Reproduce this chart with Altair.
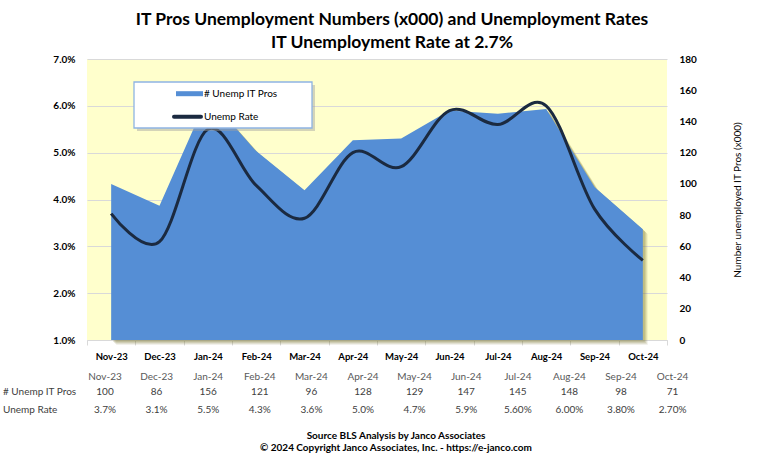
import altair as alt
import pandas as pd

# ---------------- data ----------------
months = ["Nov-23", "Dec-23", "Jan-24", "Feb-24", "Mar-24", "Apr-24",
          "May-24", "Jun-24", "Jul-24", "Aug-24", "Sep-24", "Oct-24"]
unemp_it_pros = [100, 86, 156, 121, 96, 128, 129, 147, 145, 148, 98, 71]
unemp_rate_pct = [3.7, 3.1, 5.5, 4.3, 3.6, 5.0, 4.7, 5.9, 5.6, 6.0, 3.8, 2.7]
rate_text = ["3.7%", "3.1%", "5.5%", "4.3%", "3.6%", "5.0%",
             "4.7%", "5.9%", "5.60%", "6.00%", "3.80%", "2.70%"]
series_names = ["# Unemp IT Pros", "Unemp Rate"]
row_labels = ["# Unemp IT Pros", "Unemp Rate"]
rate_ticks = [0.01, 0.02, 0.03, 0.04, 0.05, 0.06, 0.07]
count_ticks = [0, 20, 40, 60, 80, 100, 120, 140, 160, 180]
title_lines = ["IT Pros Unemployment Numbers (x000) and Unemployment Rates",
               "IT Unemployment Rate at 2.7%"]
source_lines = ["Source BLS Analysis by Janco Associates",
                "\u00a9 2024 Copyright Janco Associates, Inc. - https://e-janco.com"]
right_axis_title = "Number unemployed IT Pros (x000)"

df = pd.DataFrame({
    "month": months,
    "count": unemp_it_pros,
    "rate": [v / 100 for v in unemp_rate_pct],
    "count_text": [str(v) for v in unemp_it_pros],
    "rate_text": rate_text,
})

FONT = "Lato"
BLUE = "#558ed5"
NAVY = "#1b2a40"
W, H = 580, 281

base = alt.Chart(df)
one = alt.Chart(pd.DataFrame({"k": [0]}))

band = alt.Scale(type="band", paddingInner=0, paddingOuter=0)

x_main = alt.X(
    "month:N", sort=months, bandPosition=0.5, scale=band, title=None,
    axis=alt.Axis(tickBand="extent", labelAngle=0, labelFont=FONT,
                  labelFontSize=9.5, labelFontWeight="bold", labelColor="#000000",
                  labelPadding=6, tickSize=5, tickColor="#d9d9d9",
                  domainColor="#d9d9d9", grid=False))
y_count = alt.Y(
    "count:Q", scale=alt.Scale(domain=[0, 180]), title=right_axis_title,
    axis=alt.Axis(orient="right", values=count_ticks, grid=False, ticks=False,
                  domain=False, labelFont=FONT, labelFontSize=10,
                  labelFontWeight="bold", labelColor="#000000", labelPadding=12,
                  titleFont=FONT, titleFontSize=10, titleFontWeight="normal",
                  titleColor="#000000", titleAngle=270, titleX=70, titleY=H / 2,
                  titleAlign="center", titleBaseline="middle"))


def shadow(off, op):
    return base.mark_area(color="#7d7a36", opacity=op, xOffset=off,
                          yOffset=off).encode(x=x_main, y=y_count)


area = base.mark_area(color=BLUE, opacity=1).encode(x=x_main, y=y_count)
area_group = alt.layer(shadow(5, 0.10), shadow(4, 0.14), shadow(3, 0.18),
                       shadow(2, 0.2), area)

line = base.mark_line(strokeWidth=3, interpolate="cardinal", color=NAVY).encode(
    x=alt.X("month:N", sort=months, bandPosition=0.5, scale=band, axis=None),
    y=alt.Y("rate:Q", scale=alt.Scale(domain=[0.01, 0.07]), title=None,
            axis=alt.Axis(orient="left", values=rate_ticks, format=".1%",
                          grid=True, gridColor="#d9d9d9", ticks=False,
                          domain=False, labelFont=FONT, labelFontSize=10,
                          labelFontWeight="bold", labelColor="#000000",
                          labelPadding=12)),
)

# legend box (drawn over the marks, as in the original)
box_shadow = one.mark_rect(fill="#a0a0a0", opacity=0.45).encode(
    x=alt.value(50), x2=alt.value(228), y=alt.value(26), y2=alt.value(72))
box = one.mark_rect(fill="white", stroke="#8eb4e3", strokeWidth=1.3).encode(
    x=alt.value(47), x2=alt.value(225), y=alt.value(23), y2=alt.value(69))
sw1 = one.mark_rule(color=BLUE, strokeWidth=5).encode(
    x=alt.value(89), x2=alt.value(116), y=alt.value(34.7))
sw2 = one.mark_rule(color=NAVY, strokeWidth=4, strokeCap="round").encode(
    x=alt.value(87), x2=alt.value(114), y=alt.value(57.7))
lg1 = one.mark_text(text=series_names[0], font=FONT, fontSize=10,
                    color="#000000", align="left", baseline="middle").encode(
    x=alt.value(117), y=alt.value(34.7))
lg2 = one.mark_text(text=series_names[1], font=FONT, fontSize=10,
                    color="#000000", align="left", baseline="middle").encode(
    x=alt.value(117), y=alt.value(57.7))

x_table = alt.X("month:N", sort=months, axis=None,
                scale=alt.Scale(type="point", range=[18, 585.6], padding=0))


def table_row(field, yy, color):
    return base.mark_text(font=FONT, fontSize=10, color=color,
                          baseline="middle").encode(
        x=x_table, y=alt.value(yy), text=f"{field}:N")


t_head = table_row("month", 317.7, "#595959")
t_count = table_row("count_text", 332.7, "#404040")
t_rate = table_row("rate_text", 351, "#404040")

lab1 = one.mark_text(text=row_labels[0], font=FONT, fontSize=10, color="#404040",
                     align="left", baseline="middle").encode(
    x=alt.value(-84), y=alt.value(332.7))
lab2 = one.mark_text(text=row_labels[1], font=FONT, fontSize=10, color="#404040",
                     align="left", baseline="middle").encode(
    x=alt.value(-84), y=alt.value(351))
src1 = one.mark_text(text=source_lines[0], font=FONT, fontSize=10,
                     fontWeight="bold", color="#000000", align="center",
                     baseline="middle").encode(x=alt.value(309), y=alt.value(376.7))
src2 = one.mark_text(text=source_lines[1], font=FONT, fontSize=10,
                     fontWeight="bold", color="#000000", align="center",
                     baseline="middle").encode(x=alt.value(309), y=alt.value(389.3))

chart = alt.layer(
    area_group, line, box_shadow, box, sw1, sw2, lg1, lg2,
    t_head, t_count, t_rate, lab1, lab2, src1, src2
).resolve_scale(
    x="independent", y="independent"
).properties(
    width=W, height=H,
    autosize=alt.AutoSizeParams(type="none"),
    padding={"left": 87, "top": 59, "right": 92, "bottom": 115},
    title=alt.Title(title_lines, font=FONT, fontSize=17.5, fontWeight="bold",
                    color="#000000", anchor="middle", dx=15, lineHeight=23,
                    offset=3),
    background="white",
).configure_view(fill="#ffffcc", stroke=None)

chart.save("out.html", embed_options={"renderer": "svg", "actions": False})
